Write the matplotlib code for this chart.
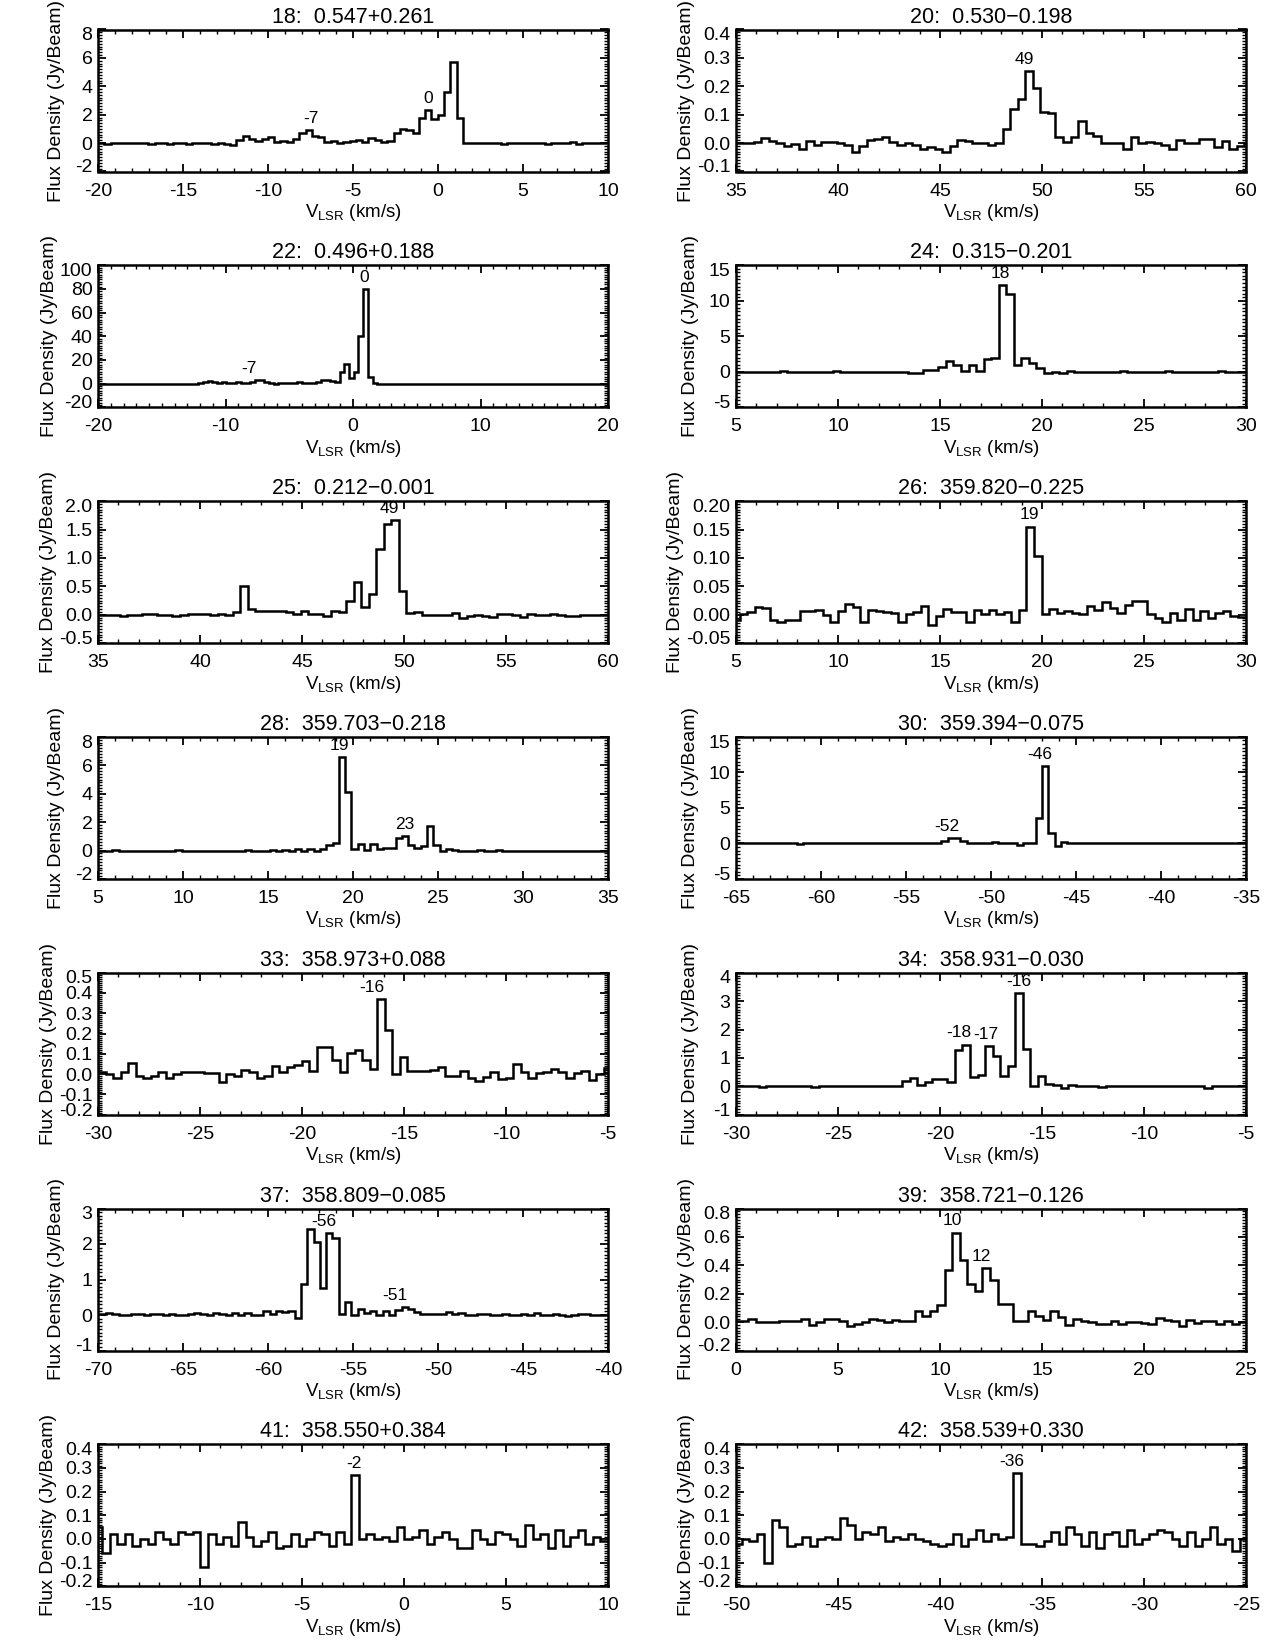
import numpy as np
import matplotlib
matplotlib.use("Agg")
import matplotlib.pyplot as plt
from matplotlib.ticker import MultipleLocator, AutoMinorLocator, FormatStrFormatter
from matplotlib.transforms import ScaledTranslation

plt.rcParams['font.family'] = ['Liberation Sans', 'DejaVu Sans']
plt.rcParams['axes.unicode_minus'] = False
plt.rcParams['mathtext.fontset'] = 'custom'
plt.rcParams['mathtext.rm'] = 'Liberation Sans'
plt.rcParams['mathtext.it'] = 'Liberation Sans:italic'

CHAN = 0.37  # channel width, km/s

# ---- spectra: flux density per channel (Jy/beam); v0 = left edge of first channel
v0_18 = -20.0
flux_18 = [0.0, -0.03, 0.0, 0.02, -0.02, 0.0, 0.03, 0.0, -0.03, 0.0, 0.02, -0.05, 0.0, 0.03, -0.05,
           -0.02, 0.0, 0.03, -0.05, 0.0, -0.05,
           -0.15, 0.2, 0.5, 0.3, 0.15, 0.3, 0.4, 0.1, 0.15, 0.1, 0.3,
           0.7, 0.9, 0.5, 0.4, 0.05, 0.15, 0.0, 0.1, 0.15, 0.25, 0.1, 0.35, 0.25, 0.1, 0.15,
           0.7, 1.0, 0.9, 0.7, 1.8, 2.3, 1.7, 2.0, 3.6, 5.7, 1.8,
           0.0, 0.02, 0.0, -0.02, 0.0, 0.0, -0.03, 0.0, 0.03, 0.0, -0.02, 0.02, 0.0, -0.05, 0.0,
           0.03, -0.02, 0.05, -0.05, 0.0, -0.02, 0.0, 0.02]
labels_18 = [("-7", -7.5), ("0", -0.56)]

v0_20 = 34.75
flux_20 = [0.0, 0.0, 0.0, 0.005, 0.018, 0.008, 0.002, -0.01, -0.002, -0.02,
           0.008, -0.005, 0.005, 0.005, 0.002, -0.005, -0.03, -0.01, 0.01, 0.015,
           0.02, 0.005, -0.005, 0.0, -0.005, -0.02, -0.015, -0.02, -0.03, -0.01,
           0.01, 0.008, 0.002, 0.0, -0.005, 0.0, 0.05, 0.12, 0.155, 0.255,
           0.195, 0.11, 0.105, 0.02, 0.005, 0.02, 0.078, 0.035, 0.025, 0.0,
           0.002, 0.0, -0.02, 0.022, 0.0, 0.003, 0.0, -0.005, -0.02, 0.012,
           0.0, 0.002, 0.016, 0.015, -0.015, 0.008, -0.02, -0.01, 0.0]
labels_20 = [("49", 49.14)]

v0_22 = -19.92
flux_22 = [0.0, 0.0, 0.1, 0.0, 0.0, -0.1, 0.0, 0.1, 0.0, 0.0, 0.0, 0.0, -0.1, 0.0, 0.0, 0.0,
           0.1, 0.0, 0.0, 0.0, 0.0, 0.5,
           1.0, 2.0, 1.0, 0.5, 1.0, 0.8, 0.5, 1.0, 0.3, 0.8,
           1.5, 2.8, 2.8, 1.5, 0.5, 0.0, 0.5, 0.8, 0.3, 0.5, 1.0, 0.5, 0.8, 0.5,
           1.5, 3.0, 3.0, 2.5, 1.0, 10.0, 17.0, 5.0, 10.0, 40.0, 80.0, 6.0, 0.5,
           0.0, 0.1, 0.0, 0.0, -0.1, 0.0, 0.0, 0.0, 0.1, 0.0,
           0.0, 0.0, 0.0, -0.1, 0.0, 0.0, 0.0, 0.0, 0.1, 0.0,
           0.0, 0.0, 0.0, 0.0, -0.1, 0.0, 0.0, 0.0, 0.0, 0.1,
           0.0, 0.0, 0.0, 0.0, 0.0, -0.1, 0.0, 0.0, 0.0, 0.0,
           0.0, 0.1, 0.0, 0.0, 0.0, 0.0, 0.0, 0.0, 0.0]
labels_22 = [("-7", -8.14), ("0", 0.87)]

v0_24 = 4.93
flux_24 = [0.0, 0.0, -0.05, 0.0, 0.0, 0.0, 0.05, 0.0, 0.0, -0.05, 0.0, 0.0, 0.0, 0.05, 0.0, 0.0,
           -0.05, 0.0, 0.0, 0.0, -0.05, 0.0, 0.0, -0.1,
           -0.1, 0.2, 0.2, 0.7, 1.5, 0.9, 0.1, 0.9, 0.1, 1.8, 1.9, 12.2, 11.0, 1.0, 2.0, 1.3,
           0.5, -0.2, 0.0, -0.2, 0.1,
           0.0, -0.05, 0.0, 0.0, -0.05, 0.0, 0.05, 0.0, 0.0, -0.05, 0.0, 0.0, 0.05, 0.0, 0.0,
           0.0, -0.05, 0.0, 0.0, 0.05, 0.0, 0.0, 0.0]
labels_24 = [("18", 17.94)]

v0_25 = 34.95
flux_25 = [0.0, 0.0, 0.0, -0.03, 0.0, 0.0, 0.02, 0.02, 0.0, 0.0, -0.02, 0.0, 0.02, 0.02, 0.02,
           0.0, 0.02, 0.0,
           0.05, 0.5, 0.1, 0.07, 0.07, 0.07, 0.07, 0.05, 0.02, 0.07, 0.02, 0.02, -0.03, 0.06,
           0.04, 0.24, 0.58, 0.13, 0.37, 1.15, 1.6, 1.67, 0.42, 0.03, 0.04,
           0.0, -0.01, 0.0, 0.0, 0.03, -0.05, -0.03, 0.0, -0.02, -0.04, 0.02, 0.02, 0.0, -0.04,
           0.02, 0.0, 0.0, 0.02, 0.0, -0.02, -0.03, 0.0, 0.0, 0.0, 0.0]
labels_25 = [("49", 49.29)]

v0_26 = 4.81
flux_26 = [-0.01, 0.002, 0.005, 0.013, 0.011, -0.01, -0.013, -0.01, -0.01, 0.007,
           0.007, 0.009, 0.0, -0.012, 0.007, 0.019, 0.014, -0.012, 0.009, 0.007,
           0.004, 0.003, -0.012, 0.002, 0.005, 0.016, -0.018, -0.003, 0.01, 0.005,
           0.004, -0.012, 0.009, 0.002, 0.008, 0.001, 0.004, -0.012, 0.009, 0.155,
           0.103, 0.002, 0.01, 0.003, 0.007, 0.003, 0.002, 0.015, 0.009, 0.022,
           0.012, 0.003, 0.017, 0.024, 0.024, 0.002, -0.005, -0.013, 0.003, -0.009,
           0.01, -0.01, 0.007, -0.005, 0.003, 0.007, -0.002, -0.004, -0.004]
labels_26 = [("19", 19.39)]

v0_28 = 4.74
flux_28 = [0.0, 0.0, 0.0, 0.05, 0.0, 0.0, 0.0, -0.05, 0.0, 0.0, 0.0, 0.0, 0.0, 0.05, 0.0, 0.0,
           0.0, 0.0, -0.05, 0.0, 0.0, 0.0, 0.0, 0.0, 0.05, 0.0, 0.0, 0.0, 0.05, 0.0, 0.05, 0.0,
           0.1, -0.05, 0.1, -0.05, 0.1, 0.4, 0.5, 6.6, 4.1, 0.1, 0.45, 0.05, 0.45, 0.1, 0.2,
           0.2, 0.85, 1.0, 0.4, 0.15, 0.35, 1.75, 0.4, 0.0, 0.1,
           0.05, 0.0, 0.0, 0.0, 0.05, 0.0, 0.0, 0.05, 0.0, 0.0, 0.0, 0.0, 0.0, 0.0, 0.0, 0.0,
           0.0, 0.0, 0.0, 0.0, 0.0, 0.0, 0.0, 0.0, 0.0]
labels_28 = [("19", 19.18), ("23", 23.05)]

v0_30 = -65.13
flux_30 = [0.0, 0.0, 0.0, 0.0, 0.05, 0.0, 0.0, 0.0, 0.0, 0.0, -0.05, 0.0, 0.0, 0.0, 0.0, 0.0,
           0.05, 0.0, 0.0, 0.0, 0.0, 0.0, 0.0, 0.0, 0.0, 0.05, 0.0, 0.0, 0.0, 0.0, 0.0, 0.05,
           0.1, 0.4, 0.7, 0.7, 0.4, 0.1, 0.0, 0.05, 0.0, 0.2, 0.0, 0.0, 0.1, -0.2, 0.1, 0.1,
           3.6, 10.9, 1.5, -0.3, 0.15, 0.0,
           0.0, 0.0, 0.05, 0.0, 0.0, 0.0, 0.0, 0.0, 0.0, 0.05, 0.0, 0.0, 0.0, 0.0, 0.0, 0.0,
           0.0, 0.0, 0.0, 0.0, 0.0, 0.0, 0.0, 0.0, 0.0, 0.0, 0.0, 0.0]
labels_30 = [("-52", -52.6), ("-46", -47.14)]

v0_33 = -30.0
flux_33 = [0.01, 0.0, -0.02, 0.01, 0.055, -0.01, -0.02, -0.01, 0.01, -0.02,
           0.0, 0.01, 0.01, 0.01, 0.005, 0.005, -0.04, 0.0, -0.01, 0.02,
           0.01, -0.02, -0.01, 0.04, 0.01, 0.035, 0.045, 0.065, 0.015, 0.135,
           0.135, 0.07, 0.01, 0.105, 0.12, 0.07, 0.025, 0.37, 0.22, 0.0,
           0.085, 0.015, 0.015, 0.015, 0.02, 0.035, -0.01, -0.01, 0.015, -0.02,
           -0.035, -0.015, 0.01, -0.025, -0.02, 0.05, 0.01, -0.02, 0.005, 0.01,
           0.025, 0.01, -0.02, 0.005, 0.015, -0.03, 0.0, 0.03]
labels_33 = [("-16", -16.57)]

v0_34 = -30.0
flux_34 = [0.0, 0.0, 0.0, -0.02, 0.0, 0.0, 0.0, 0.0, 0.0, 0.0, -0.03, 0.0, 0.0, 0.0, 0.0, 0.0,
           0.0, 0.0, 0.0, 0.0, 0.0, 0.0,
           0.2, 0.28, 0.05, 0.15, 0.26, 0.24, 0.15, 1.27, 1.47, 0.33, 0.4, 1.42, 1.05, 0.38,
           0.72, 3.27, 1.3, 0.0, 0.38, 0.07, 0.03, -0.05, 0.03,
           0.0, 0.0, 0.0, -0.02, 0.0, 0.0, 0.0, 0.0, 0.0, 0.0, 0.0, 0.0, 0.0, 0.0, 0.0, 0.0,
           0.0, -0.05, 0.0, 0.0, 0.02, 0.0, 0.0]
labels_34 = [("-18", -19.08), ("-17", -17.77), ("-16", -16.16)]

v0_37 = -70.27
flux_37 = [0.03, 0.03, 0.05, 0.03, 0.0, 0.0, 0.02, 0.02, 0.0, 0.02, 0.02, 0.0, 0.03, 0.0, 0.0,
           0.02, 0.05, 0.02, 0.0, 0.05, 0.02, 0.0, 0.05, 0.0, 0.05, 0.0,
           0.0, 0.1, 0.03, 0.1, 0.08, 0.12, -0.08, 0.87, 2.42, 2.06, 0.77, 2.3, 2.16, 0.02,
           0.37, 0.0, 0.18, 0.07, 0.1, 0.0, 0.1, 0.0, 0.14, 0.22, 0.16, 0.08, 0.03,
           0.03, 0.03, 0.03, 0.08, 0.03, 0.05, 0.0, 0.0, 0.02, 0.02, 0.0, 0.0, 0.02, 0.0, 0.0,
           0.03, 0.0, 0.05, 0.0, 0.0, 0.02, 0.0, -0.02, 0.0, 0.02, 0.02, 0.0, 0.0, 0.0]
labels_37 = [("-56", -56.72), ("-51", -52.55)]

v0_39 = -0.13
flux_39 = [0.01, 0.01, 0.02, 0.0, 0.0, 0.0, 0.005, 0.005, 0.005, 0.02,
           -0.02, 0.0, 0.02, 0.02, 0.01, -0.025, -0.01, 0.0, 0.025, 0.015,
           0.0, 0.015, 0.005, 0.01, 0.075, 0.04, 0.075, 0.12, 0.37, 0.63,
           0.44, 0.27, 0.22, 0.38, 0.3, 0.13, 0.13, 0.01, 0.01, 0.075,
           0.04, 0.015, 0.075, 0.035, -0.02, 0.02, 0.005, 0.0, -0.015, -0.01,
           0.005, -0.015, 0.0, 0.0, -0.005, -0.01, 0.03, 0.015, 0.005, -0.025,
           0.015, -0.005, 0.005, 0.005, -0.01, 0.01, -0.01, 0.0]
labels_39 = [("10", 10.58), ("12", 12.02)]

v0_41 = -15.16
flux_41 = [0.05, -0.06, 0.02, -0.02, 0.02, -0.03, 0.0, -0.02, 0.03, 0.0,
           -0.02, 0.03, 0.02, 0.03, -0.12, 0.02, -0.02, 0.01, -0.03, 0.07,
           0.01, -0.03, -0.01, 0.03, -0.04, -0.03, 0.02, -0.03, 0.0, 0.03,
           0.02, -0.03, 0.03, -0.02, 0.27, 0.0, 0.02, 0.0, 0.01, -0.01,
           0.05, 0.0, 0.01, 0.04, -0.02, 0.01, 0.03, 0.0, -0.04, -0.04,
           0.04, 0.0, -0.02, 0.03, 0.02, 0.0, -0.03, 0.06, 0.0, 0.02,
           -0.04, 0.04, -0.03, 0.01, 0.04, -0.02, 0.01, -0.01]
labels_41 = [("-2", -2.47)]

v0_42 = -50.09
flux_42 = [-0.02, 0.0, -0.01, 0.02, -0.1, 0.08, 0.05, -0.03, -0.02, 0.01,
           -0.03, 0.0, 0.01, 0.0, 0.09, 0.06, 0.0, 0.03, 0.02, 0.05,
           -0.01, 0.01, 0.0, 0.02, 0.0, -0.01, -0.02, -0.03, -0.02, 0.02,
           -0.03, 0.0, 0.04, -0.01, 0.02, 0.0, 0.01, 0.28, -0.02, -0.02,
           -0.03, -0.01, 0.03, -0.02, 0.05, 0.02, -0.03, 0.03, -0.04, 0.02,
           0.03, -0.03, 0.04, -0.02, 0.0, 0.02, 0.04, 0.03, 0.0, -0.03,
           0.03, -0.03, 0.0, 0.05, -0.02, 0.0, -0.05, 0.0]
labels_42 = [("-36", -36.5)]

# title, v0, flux, xlim, xstep, ylim, ystep, yfmt, labels
panels = [
    ("18:  0.547+0.261", v0_18, flux_18, (-20, 10), 5, (-2, 8), 2, '%d', labels_18),
    ("20:  0.530\u22120.198", v0_20, flux_20, (35, 60), 5, (-0.1, 0.4), 0.1, '%.1f', labels_20),
    ("22:  0.496+0.188", v0_22, flux_22, (-20, 20), 10, (-20, 100), 20, '%d', labels_22),
    ("24:  0.315\u22120.201", v0_24, flux_24, (5, 30), 5, (-5, 15), 5, '%d', labels_24),
    ("25:  0.212\u22120.001", v0_25, flux_25, (35, 60), 5, (-0.5, 2.0), 0.5, '%.1f', labels_25),
    ("26:  359.820\u22120.225", v0_26, flux_26, (5, 30), 5, (-0.05, 0.20), 0.05, '%.2f', labels_26),
    ("28:  359.703\u22120.218", v0_28, flux_28, (5, 35), 5, (-2, 8), 2, '%d', labels_28),
    ("30:  359.394\u22120.075", v0_30, flux_30, (-65, -35), 5, (-5, 15), 5, '%d', labels_30),
    ("33:  358.973+0.088", v0_33, flux_33, (-30, -5), 5, (-0.2, 0.5), 0.1, '%.1f', labels_33),
    ("34:  358.931\u22120.030", v0_34, flux_34, (-30, -5), 5, (-1, 4), 1, '%d', labels_34),
    ("37:  358.809\u22120.085", v0_37, flux_37, (-70, -40), 5, (-1, 3), 1, '%d', labels_37),
    ("39:  358.721\u22120.126", v0_39, flux_39, (0, 25), 5, (-0.2, 0.8), 0.2, '%.1f', labels_39),
    ("41:  358.550+0.384", v0_41, flux_41, (-15, 10), 5, (-0.2, 0.4), 0.1, '%.1f', labels_41),
    ("42:  358.539+0.330", v0_42, flux_42, (-50, -25), 5, (-0.2, 0.4), 0.1, '%.1f', labels_42),
]

W, H = 1275, 1650
fig = plt.figure(figsize=(W / 100, H / 100), dpi=100)

col_left = [98, 736]
ax_w, ax_h = 510, 142
row_top0, row_pitch = 29.5, 235.8

all_axes = []
for i, (title, v0, flux, xlim, xstep, ylim, ystep, yfmt, labels) in enumerate(panels):
    row, col = divmod(i, 2)
    top = row_top0 + row * row_pitch
    ax = fig.add_axes([col_left[col] / W, 1 - (top + ax_h) / H, ax_w / W, ax_h / H])
    all_axes.append((ax, col))

    flux = np.array(flux)
    edges = v0 + CHAN * np.arange(len(flux) + 1)
    centers = 0.5 * (edges[:-1] + edges[1:])
    ax.stairs(flux, edges, baseline=None, color='black', linewidth=1.8)

    for txt, vel in labels:
        near = np.abs(centers - vel) <= 0.7
        ypk = flux[near].max()
        ax.annotate(txt, (vel, ypk), xytext=(0, 3), textcoords='offset points',
                    ha='center', va='bottom', fontsize=12.5)

    ax.set_xlim(*xlim)
    ax.set_ylim(*ylim)
    ax.xaxis.set_major_locator(MultipleLocator(xstep))
    ax.xaxis.set_minor_locator(MultipleLocator(1))
    nmaj = int(round((ylim[1] - ylim[0]) / ystep))
    ax.set_yticks([ylim[0] + k * ystep for k in range(nmaj + 1)])
    ax.yaxis.set_minor_locator(AutoMinorLocator(10))
    ax.yaxis.set_major_formatter(FormatStrFormatter(yfmt))
    ax.tick_params(which='both', direction='in', top=True, right=True)
    ax.tick_params(which='major', length=6, width=1.3, labelsize=14)
    ax.tick_params(axis='x', which='major', pad=8)
    ax.tick_params(axis='y', which='major', pad=4)
    ax.tick_params(which='minor', length=3, width=1.0)
    for sp in ax.spines.values():
        sp.set_linewidth(1.8)

    # end labels of the y axis are nudged toward the inside of the frame
    yt = ax.yaxis.get_major_ticks()
    lb, lt = yt[0].label1, yt[-1].label1
    lb.set_transform(lb.get_transform() + ScaledTranslation(0, 4 / 72, fig.dpi_scale_trans))
    lt.set_transform(lt.get_transform() + ScaledTranslation(0, -3 / 72, fig.dpi_scale_trans))

    ax.set_title(title, fontsize=15.5, pad=5)
    ax.set_xlabel(r'V$_{\rm LSR}$ (km/s)', fontsize=13.5)
    ax.xaxis.set_label_coords(0.5, -0.215)
    ax.set_ylabel('Flux Density (Jy/Beam)', fontsize=14)

# place y labels: fixed offset unless the tick labels are wide
fig.canvas.draw()
renderer = fig.canvas.get_renderer()
for ax, col in all_axes:
    box = ax.get_window_extent(renderer)
    xs = [t.get_window_extent(renderer).x0 for t in ax.get_yticklabels() if t.get_text()]
    right = min(box.x0 - (33 if col == 0 else 37), min(xs) - 2)
    ax.yaxis.set_label_coords((right - box.x0) / box.width, 0.5)

fig.savefig('out.png', dpi=100)
